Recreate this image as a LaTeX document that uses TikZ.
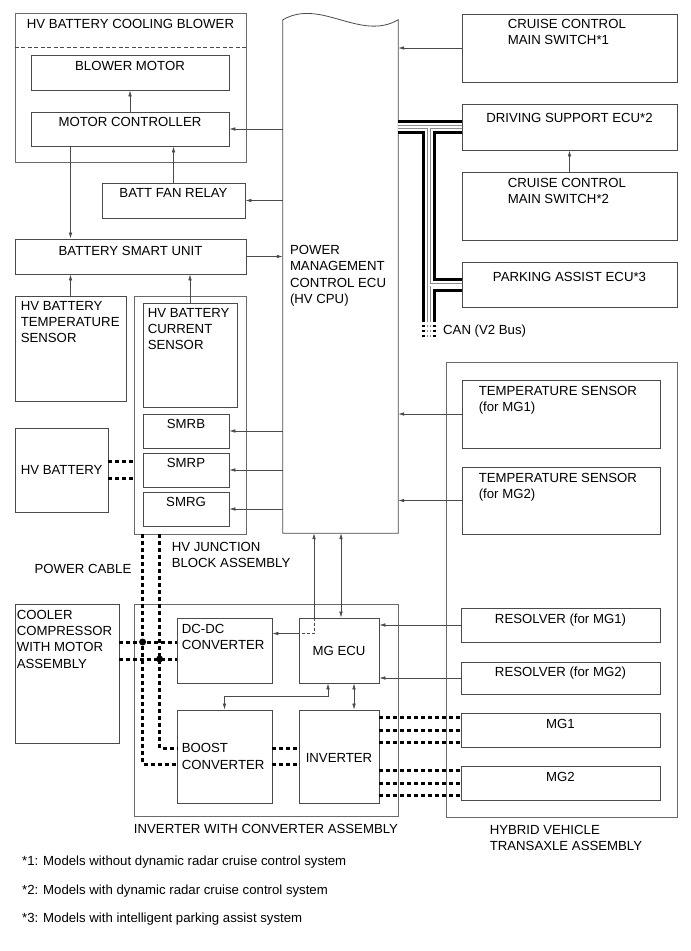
\documentclass[tikz,border=0pt]{standalone}
\usepackage{fontspec}
\setmainfont{Liberation Sans}
\usepackage{xcolor}
\usetikzlibrary{arrows.meta,positioning,fit}
\definecolor{linegray}{HTML}{4A4A4A}
\definecolor{framegray}{HTML}{6A6A6A}
\definecolor{busgray}{HTML}{8C8C8C}
\newcommand\diagfont{\fontsize{13.2}{16.3}\selectfont}

\begin{document}
\begin{tikzpicture}[
  x=1pt, y=-1pt,
  every node/.style={font=\diagfont},
  box/.style={draw=linegray, line width=0.8pt, inner sep=0pt},
  frame/.style={draw=framegray, line width=0.8pt, inner sep=0pt},
  txt/.style={inner sep=0pt, align=left},
  sig/.style={-{Latex[length=6pt,width=3.6pt]}, draw=linegray, line width=0.7pt},
  sigboth/.style={{Latex[length=6pt,width=3.6pt]}-{Latex[length=6pt,width=3.6pt]}, draw=linegray, line width=0.7pt},
  pwr/.style={line width=3pt, dash pattern=on 4pt off 3pt},
  split/.style={draw=linegray, line width=0.8pt, dash pattern=on 4pt off 2.5pt}
]
\useasboundingbox (0,0) rectangle (691,951);

% left column
\node[frame, fit={(15,13)(246,162)}] (blower) {};
\node[box, fit={(31,55)(229,90)}] (bmotor) {};
\node[box, fit={(31,112)(229,146)}] (mctrl) {};
\node[box, fit={(102,183)(245,218)}] (relay) {};
\node[box, fit={(15,239)(246,274)}] (bsu) {};
\node[box, fit={(15,296)(126,401)}] (tsens) {};
\node[frame, fit={(134,296)(246,534)}] (jblock) {};
\node[box, fit={(143,303)(237,407)}] (csens) {};
\node[box, fit={(143,414)(229,448)}] (smrb) {};
\node[box, fit={(143,453)(229,487)}] (smrp) {};
\node[box, fit={(143,492)(229,526)}] (smrg) {};
\node[box, fit={(15,428)(108,512)}] (hvbatt) {};
\node[box, fit={(15,604)(119,743)}] (cooler) {};

% ECU
\node[inner sep=0pt, fit={(283,20)(398,533)}] (pmecu) {};
\draw[box] (pmecu.north west) .. controls +(38,-22) and +(-38,22) .. (pmecu.north east)
  -- (pmecu.south east) -- (pmecu.south west) -- cycle;

% right column
\node[box, fit={(462,14)(677,82)}] (ccms1) {};
\node[box, fit={(462,104)(677,150)}] (dsecu) {};
\node[box, fit={(462,172)(677,240)}] (ccms2) {};
\node[box, fit={(462,262)(677,307)}] (paecu) {};
\node[frame, fit={(446,362)(677,817)}] (transaxle) {};
\node[box, fit={(462,380)(660,448)}] (tmg1) {};
\node[box, fit={(462,467)(660,534)}] (tmg2) {};
\node[box, fit={(461,608)(660,642)}] (res1) {};
\node[box, fit={(461,662)(660,694)}] (res2) {};
\node[box, fit={(461,713)(660,747)}] (mg1) {};
\node[box, fit={(461,766)(660,800)}] (mg2) {};

% inverter assembly
\node[frame, fit={(134,604)(398,816)}] (invasm) {};
\node[box, fit={(177,618)(272,683)}] (dcdc) {};
\node[box, fit={(299,618)(379,683)}] (mgecu) {};
\node[box, fit={(177,710)(272,803)}] (boost) {};
\node[box, fit={(299,710)(379,803)}] (inverter) {};

\draw[split] ([yshift=-35pt]blower.north west) -- ([yshift=-35pt]blower.north east);

% texts
\node[txt, anchor=north] (blower-t) at ([yshift=-6.3pt]blower.north) {HV BATTERY COOLING BLOWER};
\node[txt, anchor=north] (bmotor-t) at ([yshift=-6.3pt]bmotor.north) {BLOWER MOTOR};
\node[txt, anchor=north] (mctrl-t) at ([yshift=-5.5pt]mctrl.north) {MOTOR CONTROLLER};
\node[txt, anchor=north] (relay-t) at ([yshift=-5.5pt]relay.north) {BATT FAN RELAY};
\node[txt, anchor=north] (bsu-t) at ([yshift=-7pt]bsu.north) {BATTERY SMART UNIT};
\node[txt, anchor=north west] (tsens-t) at ([xshift=6pt,yshift=-5.3pt]tsens.north west) {HV BATTERY\\TEMPERATURE\\SENSOR};
\node[txt, anchor=north west] (csens-t) at ([xshift=5pt,yshift=-5.3pt]csens.north west) {HV BATTERY\\CURRENT\\SENSOR};
\node[txt, anchor=north] (smrb-t) at ([yshift=-5.3pt]smrb.north) {SMRB};
\node[txt, anchor=north] (smrp-t) at ([yshift=-5.3pt]smrp.north) {SMRP};
\node[txt, anchor=north] (smrg-t) at ([yshift=-5.3pt]smrg.north) {SMRG};
\node[txt, anchor=west] (hvbatt-t) at ([xshift=6pt]hvbatt.west) {HV BATTERY};
\node[txt, anchor=north west] (jblock-t) at ([xshift=38pt,yshift=-7.3pt]jblock.south west) {HV JUNCTION\\BLOCK ASSEMBLY};
\node[txt, anchor=north east] (cable-t) at ([xshift=-2pt,yshift=-29.3pt]jblock.south west) {POWER CABLE};
\node[txt, anchor=north west] (cooler-t) at ([xshift=2pt,yshift=-6.3pt]cooler.north west) {COOLER\\COMPRESSOR\\WITH MOTOR\\ASSEMBLY};
\node[txt, anchor=north west] (pmecu-t) at ([xshift=7pt,yshift=-225.3pt]pmecu.north west) {POWER\\MANAGEMENT\\CONTROL ECU\\(HV CPU)};
\node[txt, anchor=north west] (ccms1-t) at ([xshift=46pt,yshift=-5.3pt]ccms1.north west) {CRUISE CONTROL\\MAIN SWITCH*1};
\node[txt, anchor=north] (dsecu-t) at ([yshift=-9.3pt]dsecu.north) {DRIVING SUPPORT ECU*2};
\node[txt, anchor=north west] (ccms2-t) at ([xshift=46pt,yshift=-6.3pt]ccms2.north west) {CRUISE CONTROL\\MAIN SWITCH*2};
\node[txt, anchor=north] (paecu-t) at ([yshift=-10.3pt]paecu.north) {PARKING ASSIST ECU*3};
\node[txt, anchor=north west] (tmg1-t) at ([xshift=17pt,yshift=-6.3pt]tmg1.north west) {TEMPERATURE SENSOR\\(for MG1)};
\node[txt, anchor=north west] (tmg2-t) at ([xshift=17pt,yshift=-6.3pt]tmg2.north west) {TEMPERATURE SENSOR\\(for MG2)};
\node[txt, anchor=north] (res1-t) at ([yshift=-6.3pt]res1.north) {RESOLVER (for MG1)};
\node[txt, anchor=north] (res2-t) at ([yshift=-5.3pt]res2.north) {RESOLVER (for MG2)};
\node[txt, anchor=north] (mg1-t) at ([yshift=-6.3pt]mg1.north) {MG1};
\node[txt, anchor=north] (mg2-t) at ([yshift=-6.3pt]mg2.north) {MG2};
\node[txt, anchor=north west] (dcdc-t) at ([xshift=5pt,yshift=-6.3pt]dcdc.north west) {DC-DC\\CONVERTER};
\node[txt] (mgecu-t) at (mgecu.center) {MG ECU};
\node[txt, anchor=west] (boost-t) at ([xshift=5pt]boost.west) {BOOST\\CONVERTER};
\node[txt] (inverter-t) at ([yshift=-1.5pt]inverter.center) {INVERTER};
\node[txt, anchor=north] (invasm-t) at ([yshift=-7.3pt]invasm.south) {INVERTER WITH CONVERTER ASSEMBLY};
\node[txt, anchor=north west] (transaxle-t) at ([xshift=44pt,yshift=-7.3pt]transaxle.south west) {HYBRID VEHICLE\\TRANSAXLE ASSEMBLY};
\node[txt, anchor=west] (can-t) at (443,331) {CAN (V2 Bus)};
\node[txt, anchor=north west] (fn1) at (22,855.3) {*1: Models without dynamic radar cruise control system};
\node[txt, anchor=north west] (fn2) at (22,884.3) {*2: Models with dynamic radar cruise control system};
\node[txt, anchor=north west] (fn3) at (22,912.3) {*3: Models with intelligent parking assist system};

% signal lines
\draw[sig] (mctrl.north) -- (bmotor.south);
\draw[sig] (mctrl.east -| pmecu.west) -- (mctrl.east);
\draw[sig] (mctrl.south -| tsens.north) -- (bsu.north -| tsens.north);
\draw[sig] (relay.north) -- (relay.north |- mctrl.south);
\draw[sig] (relay.east -| pmecu.west) -- (relay.east);
\draw[sig] (bsu.east) -- (bsu.east -| pmecu.west);
\draw[sig] (tsens.north) -- (tsens.north |- bsu.south);
\draw[sig] (csens.north) -- (csens.north |- bsu.south);
\foreach \s in {smrb,smrp,smrg}
  \draw[sig] (\s.east -| pmecu.west) -- (\s.east);
\draw[sig] (ccms1.west) -- (ccms1.west -| pmecu.east);
\draw[sig] (ccms2.north) -- (dsecu.south);
\foreach \s in {tmg1,tmg2}
  \draw[sig] (\s.west) -- (\s.west -| pmecu.east);
\foreach \s in {res1,res2}
  \draw[sig] (\s.west) -- (\s.west -| mgecu.east);

\coordinate (via) at ([xshift=-25pt]mgecu.north);
\coordinate (dcin) at ([yshift=17pt]dcdc.east);
\coordinate (ecuA) at ([xshift=2pt]mgecu.north);
\coordinate (ecuB) at ([xshift=-11pt]mgecu.south);
\coordinate (ecuC) at ([xshift=15pt]mgecu.south);
\draw[sig] (via) -- (via |- pmecu.south);
\draw[split, dash pattern=on 3pt off 2pt] (via) |- (dcin -| mgecu.west);
\draw[sig] (dcin -| mgecu.west) -- (dcin);
\draw[sigboth] (ecuA |- pmecu.south) -- (ecuA);
\draw[sigboth] (ecuC) -- (ecuC |- inverter.north);
\draw[sigboth] (ecuB) -- ++(0,13) -| (boost.north);

% CAN bus
\coordinate (canT) at ([xshift=-32.5pt]dsecu.west);
\coordinate (canE) at ([yshift=-195pt]canT);
\coordinate (canEnd) at ([yshift=-211pt]canT);
\foreach \w/\c in {14/black,8/white,3.4/busgray,2/white}{
  \draw[line width=\w pt, draw=\c] (dsecu.west -| pmecu.east) -- (dsecu.west)
    (canT) -- (canE) (canT |- paecu.west) -- (paecu.west);
  \draw[line width=\w pt, draw=\c, dash pattern=on 2.5pt off 2.5pt, dash phase=2.5pt] (canE) -- (canEnd);
}

% power cables
\coordinate (pcA) at ([xshift=9pt]jblock.south west);
\coordinate (pcB) at ([xshift=26pt]jblock.south west);
\coordinate (acA) at ([yshift=8.5pt]dcdc.west);
\coordinate (acB) at ([yshift=-8.5pt]dcdc.west);
\draw[pwr] ([yshift=8.5pt]hvbatt.east) -- ([yshift=8.5pt]hvbatt.east -| jblock.west);
\draw[pwr] ([yshift=-8.5pt]hvbatt.east) -- ([yshift=-8.5pt]hvbatt.east -| jblock.west);
\draw[pwr] (pcA) |- ([yshift=-8pt]boost.west);
\draw[pwr] (pcB) |- ([yshift=8pt]boost.west);
\draw[pwr] (acA -| cooler.east) -- (acA);
\draw[pwr] (acB -| cooler.east) -- (acB);
\fill (pcA |- acA) circle[radius=3.5pt];
\fill (pcB |- acB) circle[radius=3.5pt];
\draw[pwr] ([yshift=8pt]boost.east) -- ([yshift=8pt]boost.east -| inverter.west);
\draw[pwr] ([yshift=-8pt]boost.east) -- ([yshift=-8pt]boost.east -| inverter.west);
\foreach \m in {mg1,mg2}
  \foreach \d in {12.5,0,-12.5}
    \draw[pwr] ([yshift=\d pt]\m.west -| inverter.east) -- ([yshift=\d pt]\m.west);
\end{tikzpicture}
\end{document}
